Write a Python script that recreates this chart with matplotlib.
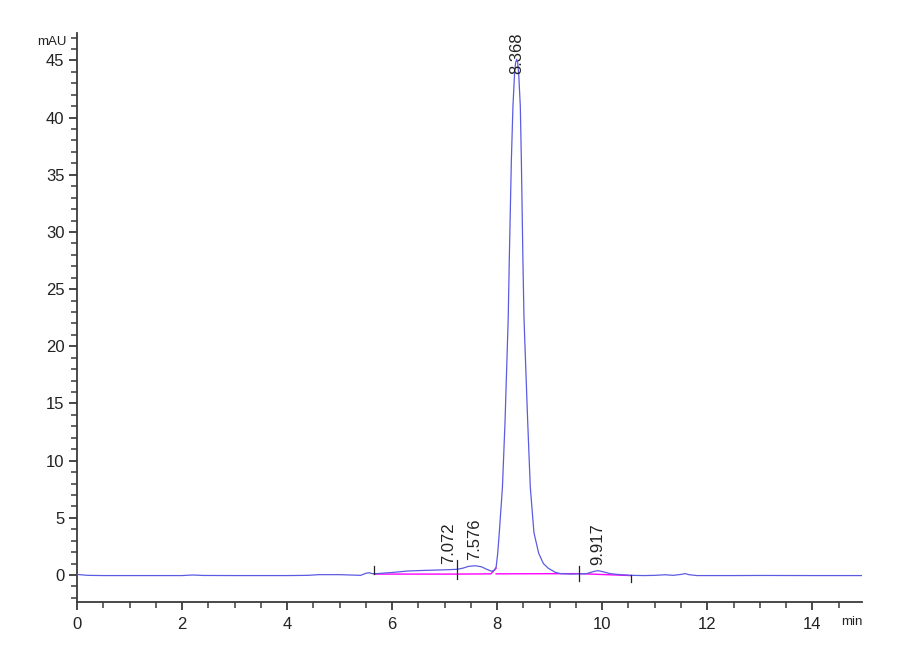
import numpy as np
import matplotlib
matplotlib.use('Agg')
import matplotlib.pyplot as plt
from matplotlib.ticker import MultipleLocator

# --- chromatogram trace (min, mAU) ---
time_min = [0.0, 0.2, 0.5, 1.0, 1.5, 2.0, 2.2, 2.4, 3.0, 4.0, 4.4, 4.6, 5.0, 5.2, 5.4,
            5.5, 5.56, 5.62, 5.7, 6.0, 6.3, 6.6, 6.9, 7.1, 7.24, 7.35, 7.45, 7.58, 7.7,
            7.8, 7.9, 7.95, 7.98, 8.01, 8.04, 8.10, 8.15, 8.21, 8.23, 8.27, 8.30, 8.33,
            8.35, 8.37, 8.39, 8.41, 8.44, 8.46, 8.49, 8.51, 8.58, 8.63, 8.70, 8.79, 8.88,
            8.97, 9.1, 9.2, 9.4, 9.55, 9.7, 9.85, 9.92, 10.0, 10.15, 10.3, 10.55, 10.8,
            11.0, 11.2, 11.35, 11.5, 11.58, 11.65, 11.8, 12.5, 13.0, 14.0, 14.95]
signal_mau = [0.05, -0.03, -0.05, -0.05, -0.05, -0.05, 0.0, -0.04, -0.05, -0.05, -0.03,
              0.03, 0.03, 0.0, -0.03, 0.15, 0.2, 0.12, 0.12, 0.22, 0.35, 0.4, 0.44, 0.47,
              0.5, 0.6, 0.75, 0.81, 0.72, 0.5, 0.32, 0.45, 0.7, 1.9, 3.7, 7.7, 13.5, 22.5,
              27.5, 36.3, 41.0, 43.8, 44.8, 45.1, 44.8, 43.8, 41.0, 36.3, 27.5, 22.5,
              13.5, 7.7, 3.7, 1.9, 1.0, 0.6, 0.25, 0.12, 0.08, 0.1, 0.12, 0.32, 0.38,
              0.3, 0.12, 0.05, -0.03, -0.05, -0.03, 0.02, -0.03, 0.05, 0.12, 0.03, -0.05,
              -0.05, -0.04, -0.05, -0.05]

# integration baseline (magenta) and peak boundary marks
base_t = [5.66, 7.24, 7.88, 7.98]
base_v = [0.08, 0.08, 0.1, 0.6]
base2_t = [7.98, 9.55, 10.55]
base2_v = [0.1, 0.12, -0.05]
boundary_t = [5.66, 7.24, 9.55, 10.55]

# peak retention-time labels
peak_rt = [7.072, 7.576, 8.368, 9.917]
peak_txt = ['7.072', '7.576', '8.368', '9.917']

trace_col = '#5c5ce2'
base_col = '#ff00ff'
axis_col = '#3a3a3a'
tick_font = ['Liberation Sans Narrow', 'Liberation Sans', 'DejaVu Sans']
label_font = ['Liberation Sans', 'DejaVu Sans']

fig = plt.figure(figsize=(9, 6.6), dpi=100)
ax = fig.add_axes([0.0856, 0.0879, 0.958 - 0.0856, 0.95 - 0.0879])

ax.plot(time_min, signal_mau, '-', color=trace_col, lw=0.9, zorder=3)
ax.plot(base_t, base_v, '-', color=base_col, lw=1.0, zorder=2)
ax.plot(base2_t, base2_v, '-', color=base_col, lw=1.0, zorder=2)

# little black marks at peak start/end
mark_ofs = [(0.0, 0.6), (-0.8, 0.8), (-0.6, 0.6), (-0.5, 0.0)]
for bt, (lo, hi) in zip(boundary_t, mark_ofs):
    yb = np.interp(bt, time_min, signal_mau)
    ax.plot([bt, bt], [yb + lo - 0.05, yb + hi + 0.05], '-', color='#222222', lw=0.9, zorder=4)

ax.set_xlim(0, 14.95)
ax.set_ylim(-2.36, 47.4)

# peak labels (rotated); clamp the tallest one inside the frame
for rt, txt in zip(peak_rt, peak_txt):
    yv = np.interp(rt, time_min, signal_mau)
    if yv > 40:
        ax.text(rt, 47.4, txt, rotation=90, ha='center', va='top', fontsize=12,
                family=label_font, color='#222222', zorder=5)
    else:
        ax.annotate(txt, (rt, yv), xytext=(0, 4), textcoords='offset points',
                    rotation=90, ha='center', va='bottom', fontsize=12,
                    family=label_font, color='#222222', zorder=5)

# axes styling
for s in ['top', 'right']:
    ax.spines[s].set_visible(False)
for s in ['left', 'bottom']:
    ax.spines[s].set_color(axis_col)
    ax.spines[s].set_linewidth(1.3)

ax.xaxis.set_major_locator(MultipleLocator(2))
ax.xaxis.set_minor_locator(MultipleLocator(0.5))
ax.yaxis.set_major_locator(MultipleLocator(5))
ax.yaxis.set_minor_locator(MultipleLocator(1))
ax.tick_params(which='major', direction='out', length=6, width=1.3, color=axis_col,
               labelsize=12, labelcolor='#222222')
ax.tick_params(which='minor', direction='out', length=4, width=1.1, color=axis_col)
ax.tick_params(axis='y', pad=3)
ax.tick_params(axis='x', pad=5)
for lab in ax.get_xticklabels() + ax.get_yticklabels():
    lab.set_family(tick_font)

ax.text(-0.013, 46.6, 'mAU', transform=ax.get_yaxis_transform(), ha='right', va='center',
        fontsize=9.5, family=tick_font, color='#222222')
ax.text(1.0, -0.025, 'min', transform=ax.transAxes, ha='right', va='top',
        fontsize=9.5, family=tick_font, color='#222222')

fig.savefig('out.png', dpi=100)
